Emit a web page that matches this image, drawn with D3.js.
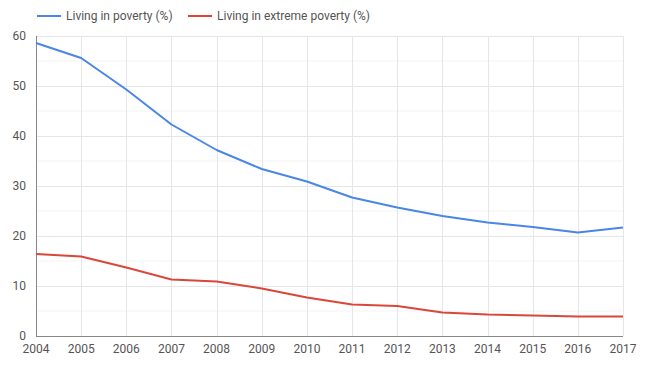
<!DOCTYPE html>
<html><head><meta charset="utf-8">
<script src="https://cdn.jsdelivr.net/npm/d3@7"></script>
<style>body{margin:0;background:#fff;}svg{display:block;font-family:Roboto,"Noto Sans",sans-serif;}</style>
</head><body>
<script>
const years = [2004,2005,2006,2007,2008,2009,2010,2011,2012,2013,2014,2015,2016,2017];
const poverty = [58.6,55.6,49.3,42.3,37.2,33.4,30.9,27.7,25.7,24.0,22.7,21.8,20.7,21.7];
const extreme = [16.4,15.9,13.7,11.3,10.9,9.5,7.7,6.3,6.0,4.7,4.3,4.1,3.9,3.9];
const yTicks = [0,10,20,30,40,50,60];
const seriesNames = ["Living in poverty (%)","Living in extreme poverty (%)"];
const colors = ["#4a86e8","#d9473a"];

const W=650,H=373;
const m={l:36,r:27,t:36,b:37};
const svg=d3.select("body").append("svg").attr("width",W).attr("height",H);
const x=d3.scaleLinear().domain([2004,2017]).range([m.l,W-m.r]);
const y=d3.scaleLinear().domain([0,60]).range([H-m.b,m.t]);

const g=svg.append("g");
// minor gridlines
g.selectAll(".minor").data(d3.range(5,60,10)).enter().append("line")
 .attr("x1",m.l).attr("x2",W-m.r).attr("y1",d=>y(d)).attr("y2",d=>y(d))
 .attr("stroke","#f3f3f3").attr("stroke-width",1);
// major horizontal
g.selectAll(".hmaj").data(yTicks.filter(d=>d>0)).enter().append("line")
 .attr("x1",m.l).attr("x2",W-m.r).attr("y1",d=>Math.round(y(d))+0.5).attr("y2",d=>Math.round(y(d))+0.5)
 .attr("stroke","#e6e6e6").attr("stroke-width",1);
// vertical
g.selectAll(".v").data(years.slice(1)).enter().append("line")
 .attr("x1",d=>Math.round(x(d))+0.5).attr("x2",d=>Math.round(x(d))+0.5).attr("y1",m.t).attr("y2",H-m.b)
 .attr("stroke","#e6e6e6").attr("stroke-width",1);

// axes lines
svg.append("line").attr("x1",m.l+0.5).attr("x2",m.l+0.5).attr("y1",m.t).attr("y2",H-m.b).attr("stroke","#888");
svg.append("line").attr("x1",m.l).attr("x2",W-m.r).attr("y1",H-m.b+0.5).attr("y2",H-m.b+0.5).attr("stroke","#888");

// tick labels
svg.selectAll(".yl").data(yTicks).enter().append("text")
 .attr("x",m.l-10).attr("y",d=>y(d)+4).attr("text-anchor","end")
 .attr("font-size",12).attr("fill","#555").text(d=>d);
svg.selectAll(".xl").data(years).enter().append("text")
 .attr("x",d=>x(d)).attr("y",H-m.b+17).attr("text-anchor","middle")
 .attr("font-size",12).attr("fill","#555").text(d=>d);

// lines
const line=d3.line().x((d,i)=>x(years[i])).y(d=>y(d));
[poverty,extreme].forEach((s,i)=>{
 svg.append("path").datum(s).attr("d",line).attr("fill","none")
  .attr("stroke",colors[i]).attr("stroke-width",2).attr("stroke-linejoin","round");
});

// legend
const lx=[37,188];
seriesNames.forEach((n,i)=>{
 svg.append("line").attr("x1",lx[i]).attr("x2",lx[i]+24).attr("y1",16).attr("y2",16)
  .attr("stroke",colors[i]).attr("stroke-width",2);
 svg.append("text").attr("x",lx[i]+29).attr("y",20).attr("font-size",12).attr("fill","#555").text(n);
});
</script>
</body></html>
